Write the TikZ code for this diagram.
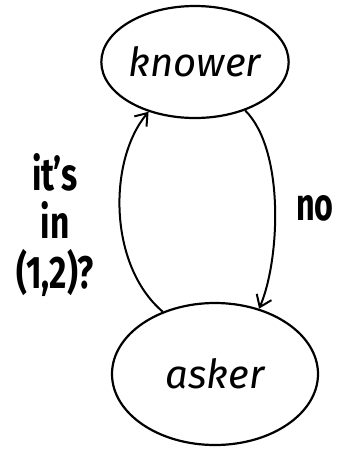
\documentclass[tikz,border=0pt]{standalone}
\usepackage{fontspec}
\setmainfont{Fira Sans}
\usetikzlibrary{shapes.geometric,arrows.meta}
\tikzset{
  state/.style={ellipse, draw, line width=2.2pt, inner sep=0pt, font=\fontsize{40}{44}\selectfont\itshape},
  conn/.style={line width=2pt, -{Straight Barb[length=11pt,width=16pt,line width=2pt]}},
  lbl/.style={font=\fontsize{38}{44}\selectfont\bfseries, align=center, inner sep=0pt}
}
\begin{document}
\begin{tikzpicture}[x=1pt,y=-1pt]
\useasboundingbox (0,0) rectangle (347,451);
\node[state, minimum width=186pt, minimum height=112pt] (knower) at (195,62) {knower};
\node[state, minimum width=206pt, minimum height=142pt] (asker) at (215,374) {asker};
\draw[conn] (asker.130) .. controls (108,265) and (108,160) .. (knower.227);
\draw[conn] (knower.316) .. controls (285,150) and (280,260) .. (asker.56);
\node[lbl] (q) at (55,229) {\scalebox{0.88}[1.2]{\begin{tabular}{@{}c@{}}it's\\[-4pt] in\\[-4pt] (1,2)?\end{tabular}}};
\node[lbl] (no) at (315,208) {\scalebox{0.85}[1.2]{no}};
\end{tikzpicture}
\end{document}
